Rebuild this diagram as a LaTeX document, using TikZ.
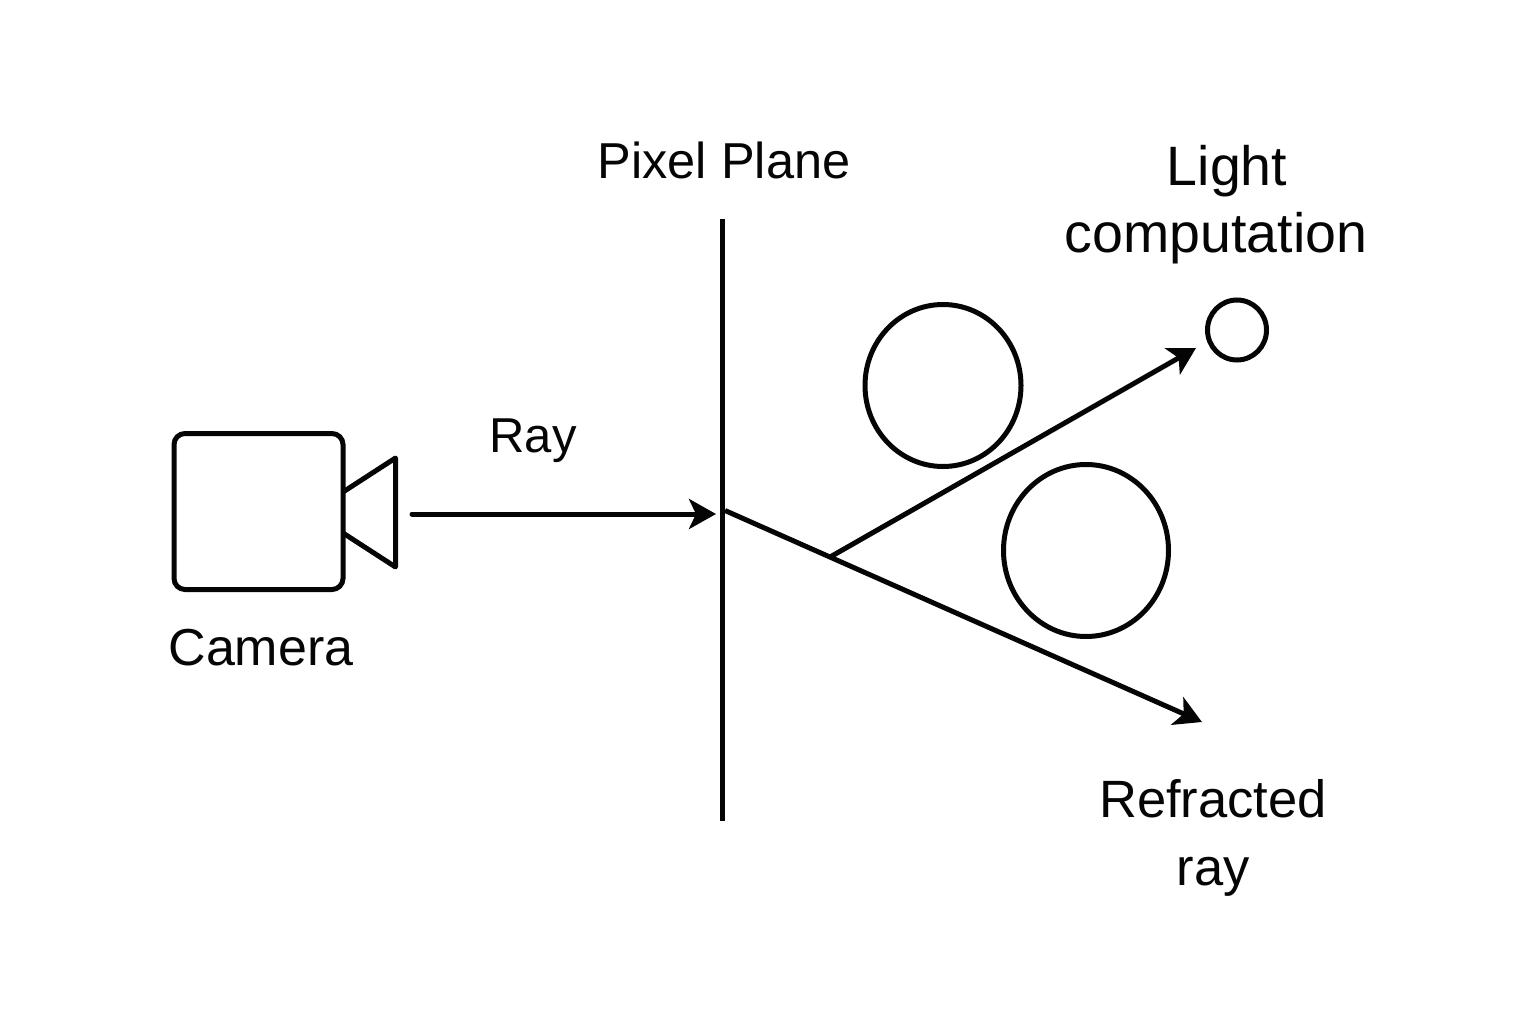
\documentclass[tikz,border=0pt]{standalone}
\usepackage{fontspec}
\setmainfont{Liberation Sans}
\usetikzlibrary{arrows.meta}
\usetikzlibrary{shapes.geometric}
\definecolor{inkblack}{RGB}{5,5,5}

\begin{document}
\begin{tikzpicture}[x=1pt,y=-1pt]
\tikzstyle{lline}=[draw=inkblack,line width=5pt]
\tikzstyle{lray}=[lline,-{Stealth[length=27pt,width=30pt,inset=7pt]}]
\tikzstyle{lball}=[lline,ellipse,inner sep=0pt]
\tikzstyle{ltext}=[text=inkblack,align=center,inner sep=0pt]
\useasboundingbox (0,0) rectangle (1536,1024);

\node [lline,rectangle,rounded corners=11pt,minimum width=169pt,minimum height=156pt] (body) at (258.5,511.5) {};
\coordinate (lenstop) at (395.5,458);
\coordinate (lensbot) at (395.5,567);
\coordinate (bodytop) at (343,492);
\coordinate (bodybot) at (343,533);
\draw [lline,line join=round] (bodytop) -- (lenstop) -- (lensbot) -- (bodybot);

\coordinate (planetop) at (722,219);
\coordinate (planebot) at (722,821);
\draw [lline] (planetop) -- (planebot);

\node [lball,minimum width=156pt,minimum height=162pt] (ballA) at (943,385.5) {};
\node [lball,minimum width=165pt,minimum height=172pt] (ballB) at (1086,550.5) {};
\node [lball,minimum width=59pt,minimum height=60pt] (lamp) at (1237,330) {};

\coordinate (raystart) at (412,514);
\coordinate (rayhit) at (716,514);
\coordinate (bounce) at (725,510.5);
\coordinate (split) at (831,556.5);
\coordinate (refrend) at (1202,722);
\coordinate (lightend) at (1196,348);
\draw [lray,line cap=round] (raystart) -- (rayhit);
\draw [lray] (bounce) -- (refrend);
\draw [lray] (split) -- (lightend);

\node [ltext,font=\fontsize{50.5}{67}\selectfont] (plabel) at (724,160.5) {Pixel Plane};
\node [ltext,font=\fontsize{49}{67}\selectfont] (rlabel) at (533,441) {Ray};
\node [ltext,font=\fontsize{52}{67}\selectfont] (clabel) at (261,648) {Camera};
\node [ltext,font=\fontsize{55.5}{67}\selectfont] (llabel) at (1216,205) {\hspace*{22pt}Light\\computation};
\node [ltext,font=\fontsize{52.5}{68}\selectfont] (flabel) at (1213,838) {Refracted\\ray};
\end{tikzpicture}
\end{document}
